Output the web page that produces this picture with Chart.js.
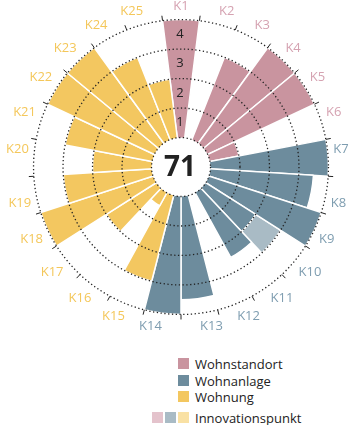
<!DOCTYPE html>
<html><head><meta charset="utf-8">
<script src="https://cdn.jsdelivr.net/npm/chart.js@4/dist/chart.umd.min.js"></script>
<style>
html,body{margin:0;padding:0;background:#fff;}
body{width:350px;height:425px;position:relative;overflow:hidden;font-family:"Open Sans",sans-serif;}
#wrap{position:absolute;left:3px;top:-4px;width:350px;height:341px;}
.leg{position:absolute;left:195px;font-size:13px;color:#222;line-height:16px;white-space:nowrap;}
.box{position:absolute;width:11px;height:11px;}
</style></head><body>
<div id="wrap"><canvas id="c"></canvas></div>
<div id="legend"></div>
<script>
const categories = ['K1','K2','K3','K4','K5','K6','K7','K8','K9','K10','K11','K12','K13','K14','K15','K16','K17','K18','K19','K20','K21','K22','K23','K24','K25'];
const groupOf = [0,0,0,0,0,0, 1,1,1,1,1,1,1,1, 2,2,2,2,2,2,2,2,2,2,2];
const baseValues = [4,0,3,4,4,1, 4,3.5,4,2,2.5,0,3.5,4, 3,0.5,2,4,3,2,3,4,4,3,2];
const innovationPoints = [0,0,0,0,0,0, 0,0,0,1,0,0,0,0, 0,0,0,0,0,0,0,0,0,0,0];
const groupNames = ['Wohnstandort','Wohnanlage','Wohnung'];
const innovationName = 'Innovationspunkt';
const ringValues = [0,1,2,3,4];
const ringLabels = ['1','2','3','4'];
const totalScore = '71';

const groupColors = ['#c9949f','#6d8c9d','#f3c760'];
const groupLight = ['#e4c3cc','#a9bbc5','#f9e1a4'];
const labelColors = ['#d5a2b1','#7e9db0','#f4c75a'];

const innovationValues = baseValues.map((v,i)=> innovationPoints[i] ? v + innovationPoints[i] : 0);

const overlay = {
  id: 'overlay',
  afterDatasetsDraw(chart) {
    const s = chart.scales.r, ctx = chart.ctx;
    const r0 = s.getDistanceFromCenterForValue(0);
    ctx.save();
    ctx.beginPath();
    ctx.arc(s.xCenter, s.yCenter, r0, 0, Math.PI*2);
    ctx.fillStyle = '#fff';
    ctx.fill();
    ctx.fillStyle = '#222';
    ctx.textAlign = 'center';
    ctx.textBaseline = 'middle';
    ctx.font = '13px "Open Sans"';
    ringLabels.forEach((t,i)=>{
      const d = s.getDistanceFromCenterForValue(i + 0.5);
      ctx.fillText(t, s.xCenter - 1, s.yCenter - d);
    });
    ctx.font = 'bold 28px "Open Sans"';
    ctx.fillText(totalScore, s.xCenter - 1, s.yCenter + 1);
    ctx.restore();
  }
};

new Chart(document.getElementById('c'), {
  type: 'polarArea',
  data: {
    labels: categories,
    datasets: [
      { data: baseValues, backgroundColor: groupOf.map(g=>groupColors[g]), borderColor: '#fff', borderWidth: 1.5 },
      { data: innovationValues, backgroundColor: groupOf.map(g=>groupLight[g]), borderColor: '#fff', borderWidth: 1.5 }
    ]
  },
  options: {
    responsive: true,
    maintainAspectRatio: false,
    animation: false,
    layout: { padding: 0 },
    plugins: { legend: { display: false }, tooltip: { enabled: false } },
    scales: {
      r: {
        min: -1, max: 4.17, startAngle: -7.2,
        afterBuildTicks: (scale) => { scale.ticks = ringValues.map(v => ({ value: v })); },
        ticks: { display: false },
        grid: { circular: true, z: 1, lineWidth: 1.3, color: '#222' },
        border: { dash: [1.3, 2.5] },
        angleLines: {
          display: true, color: '#222', lineWidth: 1,
          borderDash: (c) => { const s = c.chart.scales.r; const r4 = s.getDistanceFromCenterForValue(4); const rm = s.getDistanceFromCenterForValue(4.17); return [0, r4, rm - r4, 2000]; }
        },
        pointLabels: {
          display: true, centerPointLabels: true, padding: 0,
          font: { size: 13, family: 'Open Sans' },
          color: (c) => labelColors[groupOf[c.index]]
        }
      }
    }
  },
  plugins: [overlay]
});

// legend
const leg = document.getElementById('legend');
const rows = [358, 375, 391];
groupNames.forEach((n,i)=>{
  const b = document.createElement('div'); b.className='box'; b.style.left='178px'; b.style.top=rows[i]+'px'; b.style.background=groupColors[i]; leg.appendChild(b);
  const t = document.createElement('div'); t.className='leg'; t.style.top=(rows[i]-2.5)+'px'; t.textContent=n; leg.appendChild(t);
});
[152,165,178].forEach((x,i)=>{
  const b = document.createElement('div'); b.className='box'; b.style.left=x+'px'; b.style.top='412px'; b.style.background=groupLight[i]; leg.appendChild(b);
});
const ti = document.createElement('div'); ti.className='leg'; ti.style.top='409.5px'; ti.textContent=innovationName; leg.appendChild(ti);
</script>
</body></html>
